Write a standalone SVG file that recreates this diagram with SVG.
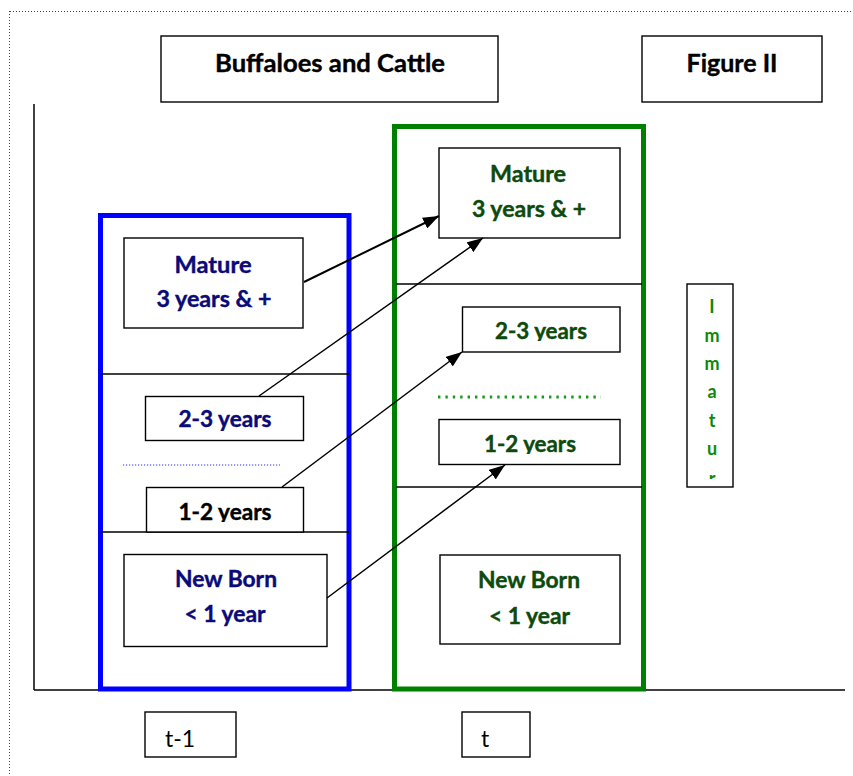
<svg xmlns="http://www.w3.org/2000/svg" width="853" height="776" viewBox="0 0 853 776">
<defs>
<style>
.box{fill:#fff;stroke:#000;stroke-width:1.4}
.ln{stroke:#000;stroke-width:1.5;fill:none}
.t{font-family:Lato,"Liberation Sans",sans-serif;font-weight:bold;text-anchor:middle;stroke-width:0.4}
.navy{fill:#0a0a78;stroke:#0a0a78}
.dg{fill:#0d4a0d;stroke:#0d4a0d}
.blk{fill:#000;stroke:#000}
.lab{font-size:22px}
.imm{font-family:Lato,"Liberation Sans",sans-serif;font-weight:bold;font-size:18px;fill:#0a8a0a;text-anchor:middle}
.conn{stroke:#000;fill:none}
</style>
<marker id="ah" markerUnits="userSpaceOnUse" markerWidth="16" markerHeight="12" refX="16" refY="6" orient="auto">
<path d="M0,0 L16,6 L0,12 z" fill="#000"/>
</marker>
<clipPath id="c23l"><rect x="146" y="397" width="157" height="34"/></clipPath>
<clipPath id="c12l"><rect x="147" y="488" width="156" height="34"/></clipPath>
<clipPath id="c23g"><rect x="463" y="307" width="156" height="34"/></clipPath>
<clipPath id="c12g"><rect x="440" y="420" width="179" height="34"/></clipPath>
<clipPath id="cimm"><rect x="688" y="285" width="44" height="194"/></clipPath>
</defs>

<g id="frame">
<line x1="10" y1="11.5" x2="853" y2="11.5" stroke="#444" stroke-width="1" stroke-dasharray="1,2"/>
<line x1="9.5" y1="11" x2="9.5" y2="776" stroke="#444" stroke-width="1" stroke-dasharray="1,2"/>
</g>

<g id="axes">
<line class="ln" x1="34" y1="104" x2="34" y2="690"/>
<line class="ln" x1="34" y1="690" x2="845" y2="690"/>
</g>

<g id="title">
<rect class="box" x="161" y="36" width="337" height="66"/>
<text class="t blk" x="330" y="72" font-size="25" textLength="230" lengthAdjust="spacingAndGlyphs">Buffaloes and Cattle</text>
</g>
<g id="figure">
<rect class="box" x="642" y="36" width="180" height="66"/>
<text class="t blk" x="732" y="72" font-size="25" textLength="91" lengthAdjust="spacingAndGlyphs">Figure II</text>
</g>

<g id="period-t1">
<rect x="100.5" y="215.5" width="248.5" height="473.5" fill="none" stroke="#0000ff" stroke-width="5"/>
<line class="ln" x1="101" y1="374" x2="349" y2="374"/>
<line class="ln" x1="101" y1="532" x2="349" y2="532"/>
<line x1="123" y1="465" x2="280" y2="465" stroke="#3030ff" stroke-width="1.2" stroke-dasharray="1.2,1.8"/>
</g>

<g id="period-t">
<rect x="394.5" y="126.5" width="249" height="562.5" fill="none" stroke="#008000" stroke-width="5"/>
<line class="ln" x1="396" y1="284" x2="642" y2="284"/>
<line class="ln" x1="396" y1="487" x2="642" y2="487"/>
<line x1="438" y1="397" x2="601" y2="397" stroke="#1a9a1a" stroke-width="2.8" stroke-dasharray="2.4,5"/>
</g>

<g id="mature-t1">
<rect class="box" x="124" y="238" width="179" height="90"/>
<text class="t navy lab" x="213" y="273" textLength="77" lengthAdjust="spacingAndGlyphs">Mature</text>
<text class="t navy lab" x="214" y="306.5" textLength="115" lengthAdjust="spacingAndGlyphs">3 years &amp; +</text>
</g>
<g id="y23-t1">
<rect class="box" x="145.5" y="396.5" width="158" height="44"/>
<text class="t navy lab" x="225" y="427" textLength="93" lengthAdjust="spacingAndGlyphs" clip-path="url(#c23l)">2-3 years</text>
</g>
<g id="y12-t1">
<rect class="box" x="146.5" y="487.5" width="157" height="44.5"/>
<text class="t blk lab" x="225" y="520" textLength="93" lengthAdjust="spacingAndGlyphs" clip-path="url(#c12l)">1-2 years</text>
</g>
<g id="newborn-t1">
<rect class="box" x="124" y="554.5" width="203" height="92"/>
<text class="t navy lab" x="226" y="587" textLength="102" lengthAdjust="spacingAndGlyphs">New Born</text>
<text class="t navy lab" x="225" y="622" textLength="81" lengthAdjust="spacingAndGlyphs">&lt; 1 year</text>
</g>

<g id="mature-t">
<rect class="box" x="439" y="148" width="181" height="90"/>
<text class="t dg lab" x="528" y="182" textLength="76" lengthAdjust="spacingAndGlyphs">Mature</text>
<text class="t dg lab" x="529" y="216.5" textLength="114" lengthAdjust="spacingAndGlyphs">3 years &amp; +</text>
</g>
<g id="y23-t">
<rect class="box" x="462.5" y="307" width="157.5" height="45"/>
<text class="t dg lab" x="541" y="338.5" textLength="92" lengthAdjust="spacingAndGlyphs" clip-path="url(#c23g)">2-3 years</text>
</g>
<g id="y12-t">
<rect class="box" x="439" y="419.5" width="181" height="45"/>
<text class="t dg lab" x="530" y="451.5" textLength="92" lengthAdjust="spacingAndGlyphs" clip-path="url(#c12g)">1-2 years</text>
</g>
<g id="newborn-t">
<rect class="box" x="440" y="555" width="180" height="89"/>
<text class="t dg lab" x="529" y="587.5" textLength="102" lengthAdjust="spacingAndGlyphs">New Born</text>
<text class="t dg lab" x="529.5" y="623.5" textLength="81" lengthAdjust="spacingAndGlyphs">&lt; 1 year</text>
</g>

<g id="immature">
<rect class="box" x="687" y="284" width="46" height="203"/>
<g clip-path="url(#cimm)">
<text class="imm" x="712" y="313">I</text>
<text class="imm" x="712" y="342">m</text>
<text class="imm" x="712" y="370">m</text>
<text class="imm" x="712" y="398">a</text>
<text class="imm" x="712" y="427">t</text>
<text class="imm" x="712" y="455">u</text>
<text class="imm" x="712" y="485">r</text>
</g>
</g>

<g id="label-t1">
<rect class="box" x="145" y="712" width="91" height="45"/>
<text x="165" y="747" font-family="Lato,'Liberation Sans',sans-serif" font-size="23" fill="#000">t-1</text>
</g>
<g id="label-t">
<rect class="box" x="462" y="712" width="68" height="45"/>
<text x="481" y="747" font-family="Lato,'Liberation Sans',sans-serif" font-size="23" fill="#000">t</text>
</g>

<g id="connectors">
<line class="conn" stroke-width="2" x1="304" y1="282" x2="439" y2="216" marker-end="url(#ah)"/>
<line class="conn" stroke-width="1.5" x1="259" y1="396" x2="483" y2="238" marker-end="url(#ah)"/>
<line class="conn" stroke-width="1.5" x1="282" y1="487" x2="462" y2="352" marker-end="url(#ah)"/>
<line class="conn" stroke-width="1.5" x1="327" y1="598" x2="505" y2="465" marker-end="url(#ah)"/>
</g>
</svg>
